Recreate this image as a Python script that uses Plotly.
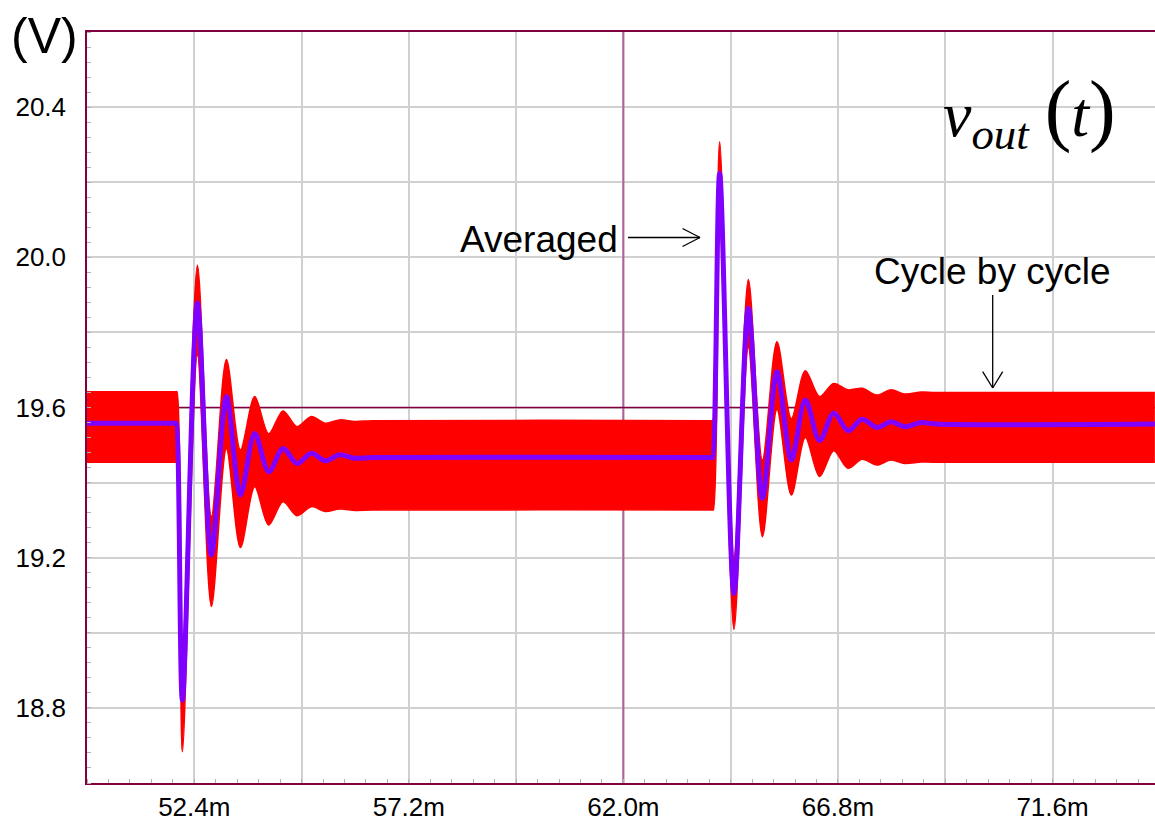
import plotly.graph_objects as go

# ---------------- data (time in ms, voltage in V) ----------------
# Averaged model output voltage
t_avg = [50.0, 51.99, 52.0, 52.134, 52.47, 52.783, 53.119, 53.432, 53.752, 54.065,
         54.385, 54.698, 55.02, 55.33, 55.65, 55.97, 56.4, 63.99, 64.0, 64.154,
         64.474, 64.796, 65.11, 65.436, 65.758, 66.07, 66.39, 66.705, 67.025, 67.34,
         67.67, 67.99, 68.29, 68.67, 69.0, 73.89]
v_avg = [19.558, 19.558, 19.558, 18.821, 19.878, 19.207, 19.629, 19.367, 19.531, 19.429,
         19.491, 19.451, 19.478, 19.458, 19.474, 19.465, 19.467, 19.467, 19.467, 20.224,
         19.105, 19.864, 19.358, 19.695, 19.46, 19.62, 19.512, 19.585, 19.538, 19.569,
         19.547, 19.562, 19.549, 19.56, 19.556, 19.556]

# Cycle-by-cycle output voltage: upper / lower envelope of the switching ripple
t_cyc_upper = [50.0, 51.99, 52.012, 52.134, 52.47, 52.783, 53.119, 53.432, 53.752, 54.065,
               54.385, 54.698, 55.02, 55.33, 55.65, 56.0, 56.4, 63.99, 64.005, 64.154,
               64.474, 64.796, 65.11, 65.436, 65.758, 66.07, 66.39, 66.705, 67.025, 67.34,
               67.67, 67.99, 68.29, 68.67, 69.0, 73.89]
v_cyc_upper = [19.642, 19.642, 19.642, 18.93, 19.979, 19.31, 19.728, 19.487, 19.629, 19.53,
               19.591, 19.549, 19.576, 19.558, 19.567, 19.563, 19.565, 19.565, 19.565, 20.308,
               19.2, 19.941, 19.46, 19.775, 19.57, 19.698, 19.629, 19.664, 19.647, 19.651,
               19.633, 19.647, 19.636, 19.641, 19.64, 19.64]
t_cyc_lower = [50.0, 51.99, 52.012, 52.134, 52.47, 52.783, 53.119, 53.432, 53.752, 54.065,
               54.385, 54.698, 55.02, 55.33, 55.65, 56.0, 56.4, 63.99, 64.012, 64.154,
               64.474, 64.796, 65.11, 65.436, 65.758, 66.07, 66.39, 66.705, 67.025, 67.34,
               67.67, 67.99, 68.29, 68.67, 69.0, 73.89]
v_cyc_lower = [19.454, 19.454, 19.454, 18.683, 19.74, 19.07, 19.49, 19.227, 19.389, 19.287,
               19.349, 19.312, 19.336, 19.323, 19.33, 19.326, 19.327, 19.327, 19.327, 20.12,
               19.009, 19.76, 19.256, 19.595, 19.367, 19.52, 19.416, 19.485, 19.438, 19.462,
               19.447, 19.46, 19.451, 19.455, 19.454, 19.454]

x_tick_vals = [50.0, 52.4, 54.8, 57.2, 59.6, 62.0, 64.4, 66.8, 69.2, 71.6]
x_tick_text = ["", "52.4m", "", "57.2m", "", "62.0m", "", "66.8m", "", "71.6m"]
y_tick_vals = [18.6, 18.8, 19.0, 19.2, 19.4, 19.6, 19.8, 20.0, 20.2, 20.4, 20.6]
y_tick_text = ["", "18.8", "", "19.2", "", "19.6", "", "20.0", "", "20.4", ""]

cursor_t = 62.0
cursor_v = 19.6
x_range = [50.0, 73.893]
y_range = [18.6, 20.6]

# ---------------- figure ----------------
W, H = 1155, 821
ML, MR, MT, MB = 87, 0, 32, 38
PW, PH = W - ML - MR, H - MT - MB


def px(x):
    return (x - ML) / PW


def py(y):
    return 1 - (y - MT) / PH


RED = "#ff0000"
PURPLE = "#8000ff"
MAROON = "#800040"
SANS = "Liberation Sans, Arial, sans-serif"
SERIF = "Liberation Serif, Times New Roman, serif"

fig = go.Figure()
# cursor lines (drawn first so the waveforms cover them)
fig.add_trace(go.Scatter(x=[cursor_t, cursor_t], y=y_range, mode="lines",
                         line=dict(color="#b0609a", width=2), hoverinfo="skip", showlegend=False))
fig.add_trace(go.Scatter(x=x_range, y=[cursor_v, cursor_v], mode="lines",
                         line=dict(color=MAROON, width=1.5), hoverinfo="skip", showlegend=False))
fig.add_trace(go.Scatter(x=t_cyc_lower, y=v_cyc_lower, mode="lines",
                         line=dict(color=RED, width=1.5, shape="spline", smoothing=0.9),
                         hoverinfo="skip", showlegend=False))
fig.add_trace(go.Scatter(x=t_cyc_upper, y=v_cyc_upper, mode="lines", fill="tonexty",
                         fillcolor=RED,
                         line=dict(color=RED, width=1.5, shape="spline", smoothing=0.9),
                         name="Cycle by cycle", showlegend=False))
fig.add_trace(go.Scatter(x=t_avg, y=v_avg, mode="lines",
                         line=dict(color=PURPLE, width=5, shape="spline", smoothing=0.9),
                         name="Averaged", showlegend=False))

fig.update_layout(
    width=W, height=H,
    margin=dict(l=ML, r=MR, t=MT, b=MB, autoexpand=False),
    paper_bgcolor="white", plot_bgcolor="white",
    showlegend=False,
    font=dict(family=SANS, color="black"),
)
fig.update_xaxes(
    range=x_range, tickmode="array", tickvals=x_tick_vals, ticktext=x_tick_text,
    showgrid=True, gridcolor="#d0d0d0", gridwidth=1.5, zeroline=False, automargin=False,
    showline=True, linecolor=MAROON, linewidth=1.5, mirror=True,
    ticks="", tickfont=dict(size=26, family=SANS, color="black"), ticklabelstandoff=0,
    minor=dict(tickmode="linear", tick0=50.0, dtick=0.48, ticks="inside", ticklen=4,
               tickcolor="#b0b0b0", tickwidth=1, showgrid=False),
)
fig.update_yaxes(
    range=y_range, tickmode="array", tickvals=y_tick_vals, ticktext=y_tick_text,
    showgrid=True, gridcolor="#d0d0d0", gridwidth=1.5, zeroline=False, automargin=False,
    showline=True, linecolor=MAROON, linewidth=1.5, mirror=False,
    ticks="", tickfont=dict(size=26, family=SANS, color="black"), ticklabelstandoff=14,
    minor=dict(tickmode="linear", tick0=18.6, dtick=0.04, ticks="inside", ticklen=4,
               tickcolor="#b0b0b0", tickwidth=1, showgrid=False),
)

shapes = [
    # white box behind the v_out(t) label
    dict(type="rect", xref="paper", yref="paper", x0=px(941), x1=px(1122), y0=py(160), y1=py(90),
         fillcolor="white", line=dict(width=0), layer="between"),
]
# arrows (open heads)
arrow_style = dict(color="black", width=1.3)
for (x0, y0, x1, y1) in [(628, 237.5, 700, 237.5), (682.5, 228.5, 700, 237.5), (682.5, 246.5, 700, 237.5),
                         (992.7, 295, 992.7, 388), (982.7, 371.7, 992.7, 388), (1002.7, 371.7, 992.7, 388)]:
    shapes.append(dict(type="line", xref="paper", yref="paper", x0=px(x0), y0=py(y0),
                       x1=px(x1), y1=py(y1), line=arrow_style, layer="above"))
fig.update_layout(shapes=shapes)

annotations = [
    dict(text="(V)", x=px(44), y=py(36), xref="paper", yref="paper", showarrow=False,
         xanchor="center", yanchor="middle", font=dict(size=50, family=SANS, color="black")),
    dict(text="Averaged", x=px(539), y=py(240), xref="paper", yref="paper", showarrow=False,
         xanchor="center", yanchor="middle", font=dict(size=37, family=SANS, color="black")),
    dict(text="Cycle by cycle", x=px(992), y=py(272), xref="paper", yref="paper", showarrow=False,
         xanchor="center", yanchor="middle", font=dict(size=37, family=SANS, color="black")),
    dict(text="<i>v</i><sub><i>out</i></sub> <span style='font-size:80px'>(</span><i>t</i><span style='font-size:80px'>)</span>",
         x=px(941), y=py(112), xref="paper", yref="paper", showarrow=False,
         xanchor="left", yanchor="middle", font=dict(size=64, family=SERIF, color="black")),
]
fig.update_layout(annotations=annotations)

fig.write_html("out.html", config={"displayModeBar": False},
               post_script="document.body.style.margin='0px';document.body.style.overflow='hidden';")
